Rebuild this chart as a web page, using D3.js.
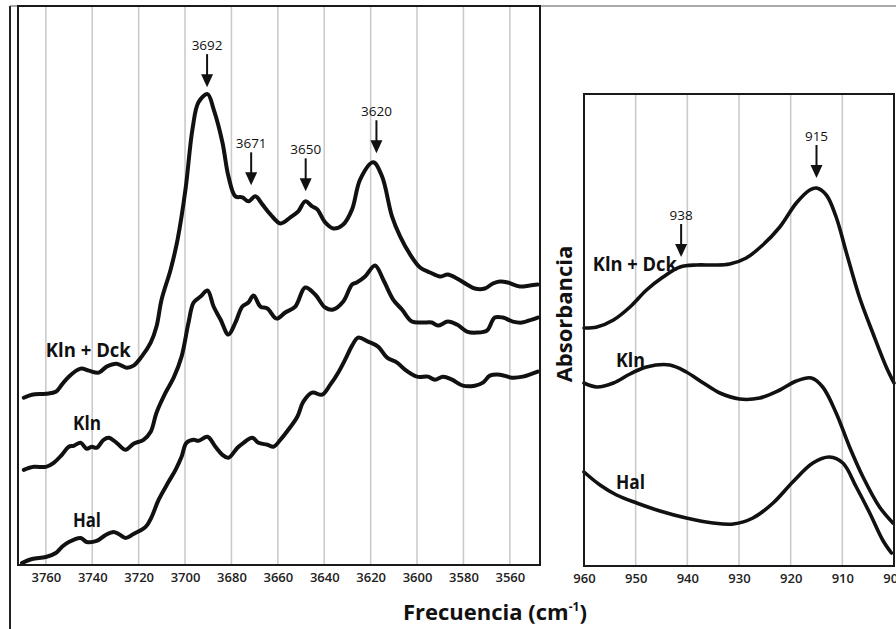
<!DOCTYPE html>
<html><head><meta charset="utf-8">
<script src="https://cdn.jsdelivr.net/npm/d3@7"></script>
<style>html,body{margin:0;padding:0;background:#fff}svg{display:block}</style>
</head><body>
<svg id="chart" width="896" height="629"></svg>
<script>
// ---------- DATA (OH stretching region, cm-1 ; absorbance in arbitrary units) ----------
const ohTicks = [3760,3740,3720,3700,3680,3660,3640,3620,3600,3580,3560];
const ohDckFreq = [3769.5,3766.0,3760.0,3755.7,3753.1,3750.1,3745.0,3741.5,3737.2,3733.8,3729.5,3725.2,3722.2,3718.7,3714.8,3712.3,3710.1,3706.2,3703.2,3699.8,3696.8,3694.2,3690.3,3687.7,3683.9,3681.3,3678.3,3675.3,3672.7,3669.7,3666.7,3663.2,3658.9,3654.6,3651.2,3648.2,3645.2,3643.0,3639.6,3636.1,3631.8,3628.0,3624.5,3618.9,3615.1,3610.8,3607.3,3603.0,3598.7,3594.4,3590.1,3586.7,3582.8,3578.5,3575.1,3570.8,3567.3,3564.3,3560.9,3555.7,3551.4,3548.0];
const ohDckAbs  = [167,170,171,173,180,188,196,194,192,198,201,197,199,208,222,238,265,295,325,375,435,462,470,455,422,388,368,367,363,368,360,350,341,347,353,363,358,355,342,336,340,355,385,402,388,348,328,310,297,292,288,290,286,280,276,276,281,283,282,278,279,280];
const ohKlnFreq = [3769.5,3765.2,3760.0,3756.6,3753.1,3750.1,3748.0,3745.0,3742.4,3740.2,3738.1,3735.1,3732.9,3729.5,3725.6,3722.2,3717.9,3714.8,3712.3,3708.4,3704.9,3701.5,3698.5,3696.3,3693.3,3690.3,3687.7,3684.7,3681.3,3678.3,3675.3,3672.7,3670.5,3667.5,3664.5,3660.6,3656.8,3652.5,3648.2,3643.9,3639.6,3636.1,3631.8,3628.0,3626.0,3622.4,3618.1,3614.6,3610.3,3606.5,3602.2,3597.8,3593.6,3591.0,3586.7,3582.8,3578.5,3574.2,3569.9,3566.5,3563.0,3558.7,3554.8,3550.5,3548.0];
const ohKlnAbs  = [95,98,98,102,110,118,119,122,116,118,117,125,127,122,115,121,125,133,152,172,187,208,242,262,268,274,258,245,230,242,258,262,269,258,256,246,252,258,277,270,257,255,263,280,282,288,299,285,265,255,243,242,242,239,243,240,233,232,234,247,247,243,242,245,247];
const ohHalFreq = [3770.3,3766.0,3760.0,3755.7,3753.1,3750.1,3745.0,3742.4,3738.1,3734.2,3730.8,3728.6,3725.6,3722.2,3717.0,3714.4,3711.4,3707.1,3704.1,3701.5,3699.4,3696.3,3694.2,3690.3,3686.9,3683.9,3681.3,3677.4,3674.8,3671.0,3668.4,3664.5,3661.9,3658.9,3655.5,3651.6,3649.0,3645.2,3640.9,3637.4,3634.0,3631.0,3628.0,3625.4,3621.1,3616.8,3612.9,3608.6,3605.2,3600.0,3595.3,3592.3,3588.8,3584.9,3580.2,3575.1,3571.6,3568.6,3564.3,3559.1,3554.4,3548.0];
const ohHalAbs  = [2,6,8,12,18,23,27,23,24,30,33,31,27,31,38,48,65,83,95,108,122,125,124,128,118,110,107,117,122,127,122,120,118,125,135,148,163,172,170,180,192,205,219,227,223,218,207,202,195,188,188,185,188,185,179,179,182,189,190,187,188,193];
const ohPeakLabels = ["3692","3671","3650","3620"];
const ohPeakFreq   = [3690.5,3671.5,3648,3617.5];
const ohPeakTip    = [477,379,373,411];
const ohSeriesNames = ["Kln + Dck","Kln","Hal"];
const ohNameFreq = [3760,3748.3,3748.3];
const ohNameAbs  = [208,135,38];

// ---------- DATA (OH bending region, cm-1) ----------
const bdTicks = [960,950,940,930,920,910,900];
const bdDckFreq = [960,957.5,954.3,951.1,947.9,944.7,941.4,938.2,935.0,931.8,928.6,925.4,922.1,918.9,916.3,915.0,913.1,911.2,909.2,906.7,904.1,901.5,900];
const bdDckAbs  = [238,239,246,259,276,289,299,301,301,302,308,321,339,363,376,378,371,349,313,269,233,199,183];
const bdKlnFreq = [960,957.5,954.3,951.1,947.9,943.4,940.2,936.9,933.7,929.9,926.0,922.1,918.9,916.0,913.8,911.2,908.6,906.0,902.8,900.2];
const bdKlnAbs  = [183,179,183,192,199,201,194,183,173,167,168,176,185,188,179,153,119,89,59,43];
const bdHalFreq = [960,956.9,953.7,949.8,945.3,940.2,935.0,931.1,927.3,923.4,919.6,915.7,912.5,909.9,907.3,904.7,902.2,900.5];
const bdHalAbs  = [94,81,71,63,55,48,43,42,48,63,84,103,109,103,79,53,26,13];
const bdPeakLabels = ["915","938"];
const bdPeakFreq   = [915.0,941.2];
const bdPeakTip    = [388,309];
const bdSeriesNames = ["Kln + Dck","Kln","Hal"];
const bdNameFreq = [958.3,953.8,953.8];
const bdNameAbs  = [295,199,77];

const yTitle = "Absorbancia";
const xTitle = "Frecuencia (cm";

// ---------- DRAWING ----------
const svg = d3.select("#chart");
const INK = "#111";
const GRID = "#cbcbcb";
const FONT = "'Open Sans', 'DejaVu Sans', sans-serif";

// outer frame
svg.append("path").attr("d","M10,629V6").attr("stroke","#222").attr("stroke-width",2).attr("fill","none");
svg.append("path").attr("d","M10,6H896").attr("stroke","#555").attr("stroke-width",1.2).attr("fill","none");

function panel(cfg) {
  const g = svg.append("g");
  const x = d3.scaleLinear().domain(cfg.xDomain).range([cfg.x0, cfg.x1]);
  const y = d3.scaleLinear().domain(cfg.yDomain).range([cfg.y1, cfg.y0]);
  // grid
  g.selectAll("line.grid").data(cfg.grid).join("line")
    .attr("x1", d => x(d)).attr("x2", d => x(d))
    .attr("y1", cfg.y0).attr("y2", cfg.y1)
    .attr("stroke", GRID).attr("stroke-width", 1.6);
  // axis labels
  const ax = g.append("g").attr("transform", `translate(0,${cfg.y1})`)
    .call(d3.axisBottom(x).tickValues(cfg.ticks).tickSize(0).tickPadding(8).tickFormat(d3.format("d")));
  ax.select(".domain").remove();
  ax.selectAll("text").attr("font-family", FONT).attr("font-size", 13).attr("font-weight", 600).attr("fill", "#222");
  // curves
  const line = d3.line().x(d => x(d[0])).y(d => y(d[1])).curve(d3.curveCatmullRom.alpha(0.5));
  cfg.series.forEach(s => {
    g.append("path").datum(d3.zip(s[0], s[1])).attr("d", line)
      .attr("fill","none").attr("stroke", INK).attr("stroke-width", cfg.lw)
      .attr("stroke-linejoin","round").attr("stroke-linecap","round");
  });
  // border
  g.append("rect").attr("x", cfg.x0).attr("y", cfg.y0)
    .attr("width", cfg.x1 - cfg.x0).attr("height", cfg.y1 - cfg.y0)
    .attr("fill","none").attr("stroke","#1a1a1a").attr("stroke-width", 2);
  // series names
  cfg.names.forEach((n, i) => {
    g.append("text").attr("x", x(cfg.nameFreq[i])).attr("y", y(cfg.nameAbs[i]))
      .attr("font-family", FONT).attr("font-weight", 700).attr("font-size", 19)
      .attr("fill", INK).attr("textLength", cfg.nameLen[i]).attr("lengthAdjust","spacingAndGlyphs")
      .text(n);
  });
  // peak arrows
  cfg.peakLabels.forEach((lab, i) => {
    const px = x(cfg.peakFreq[i]);
    const tip = y(cfg.peakTip[i]);
    const top = tip - 33;
    g.append("line").attr("x1", px).attr("x2", px).attr("y1", top).attr("y2", tip - 10)
      .attr("stroke", INK).attr("stroke-width", 2);
    g.append("path").attr("d", `M${px-6},${tip-13}L${px+6},${tip-13}L${px},${tip}Z`).attr("fill", INK);
    g.append("text").attr("x", px).attr("y", top - 4).attr("text-anchor","middle")
      .attr("font-family", FONT).attr("font-size", 13.5).attr("font-weight", 500).attr("fill", INK).text(lab);
  });
}

panel({
  x0: 18, x1: 540, y0: 6, y1: 565,
  xDomain: [3772, 3547], yDomain: [0, 558],
  grid: ohTicks, ticks: ohTicks, lw: 4,
  series: [[ohDckFreq, ohDckAbs], [ohKlnFreq, ohKlnAbs], [ohHalFreq, ohHalAbs]],
  names: ohSeriesNames, nameFreq: ohNameFreq, nameAbs: ohNameAbs, nameLen: [85, 28, 28],
  peakLabels: ohPeakLabels, peakFreq: ohPeakFreq, peakTip: ohPeakTip
});

panel({
  x0: 584, x1: 894, y0: 94, y1: 566,
  xDomain: [960, 900], yDomain: [0, 472],
  grid: bdTicks.filter(d => d < 960 && d > 900), ticks: bdTicks, lw: 3.6,
  series: [[bdDckFreq, bdDckAbs], [bdKlnFreq, bdKlnAbs], [bdHalFreq, bdHalAbs]],
  names: bdSeriesNames, nameFreq: bdNameFreq, nameAbs: bdNameAbs, nameLen: [84, 29, 29],
  peakLabels: bdPeakLabels, peakFreq: bdPeakFreq, peakTip: bdPeakTip
});

// axis titles
svg.append("text").attr("transform","translate(572,314) rotate(-90)")
  .attr("text-anchor","middle").attr("font-family", FONT).attr("font-weight",700)
  .attr("font-size",22).attr("fill", INK).text(yTitle);

const xt = svg.append("text").attr("x", 403).attr("y", 620)
  .attr("font-family", FONT).attr("font-weight",700).attr("font-size",22).attr("fill", INK);
xt.append("tspan").text(xTitle);
xt.append("tspan").attr("dy", -9).attr("font-size", 12).text("-1");
xt.append("tspan").attr("dy", 9).text(")");
</script>
</body></html>
